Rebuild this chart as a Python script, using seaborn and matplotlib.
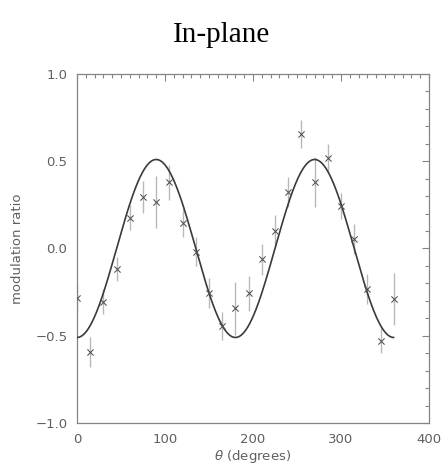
import numpy as np
import pandas as pd
import matplotlib
matplotlib.use("Agg")
import matplotlib.pyplot as plt
import seaborn as sns
from matplotlib.ticker import MultipleLocator, FuncFormatter

# Measured modulation ratio vs. polarisation angle
theta_deg = [0, 15, 30, 45, 60, 75, 90, 105, 120, 135, 150, 165, 180,
             195, 210, 225, 240, 255, 270, 285, 300, 315, 330, 345, 360]
mod_ratio = [-0.284, -0.595, -0.305, -0.118, 0.177, 0.294, 0.265, 0.380,
             0.145, -0.018, -0.253, -0.445, -0.343, -0.257, -0.062, 0.102,
             0.326, 0.655, 0.383, 0.517, 0.244, 0.053, -0.232, -0.529, -0.291]
mod_err = [0.08, 0.085, 0.07, 0.07, 0.07, 0.09, 0.15, 0.10, 0.08, 0.085,
           0.086, 0.08, 0.15, 0.10, 0.09, 0.09, 0.086, 0.082, 0.143, 0.08,
           0.076, 0.086, 0.086, 0.072, 0.148]

# cos(2 theta) model fit
fit_amplitude = 0.51
fit_offset = 0.0

df = pd.DataFrame({"theta": theta_deg, "ratio": mod_ratio, "err": mod_err})
theta_fine = np.linspace(0, 360, 721)
fit_df = pd.DataFrame({
    "theta": theta_fine,
    "ratio": fit_offset - fit_amplitude * np.cos(np.deg2rad(2 * theta_fine)),
})

sns.set_theme(style="white")
plt.rcParams["font.family"] = ["DejaVu Sans"]

axis_grey = "#858585"
label_grey = "#606060"
fig = plt.figure(figsize=(4.43, 4.68), dpi=100)
ax = fig.add_axes([0.1738, 0.0962, 0.7946, 0.7457])

ax.errorbar(df["theta"], df["ratio"], yerr=df["err"], fmt="none",
            ecolor="#b8b8b8", elinewidth=1.0, capsize=0, zorder=2)
sns.lineplot(data=fit_df, x="theta", y="ratio", ax=ax, color="#3a3a3a",
             linewidth=1.2, zorder=3)
sns.scatterplot(data=df, x="theta", y="ratio", ax=ax, marker="x",
                color="#505050", s=20, linewidth=0.75, zorder=4)

ax.set_xlim(0, 400)
ax.set_ylim(-1.0, 1.0)
ax.xaxis.set_major_locator(MultipleLocator(100))
ax.xaxis.set_minor_locator(MultipleLocator(10))
ax.yaxis.set_major_locator(MultipleLocator(0.5))
ax.yaxis.set_minor_locator(MultipleLocator(0.1))
ax.yaxis.set_major_formatter(
    FuncFormatter(lambda v, _: f"{v:.1f}".replace("-", "\u2212")))
ax.xaxis.set_major_formatter(FuncFormatter(lambda v, _: f"{v:.0f}"))

for sp in ax.spines.values():
    sp.set_color(axis_grey)
    sp.set_linewidth(0.9)
ax.tick_params(which="both", direction="in", top=True, right=True,
               color=axis_grey, width=0.8, labelcolor=label_grey,
               labelsize=9.5)
ax.tick_params(which="major", length=5, pad=7)
ax.tick_params(which="minor", length=3)

ax.set_xlabel(r"$\theta$ (degrees)", color=label_grey, fontsize=9.5, labelpad=2)
ax.set_ylabel("modulation ratio", color=label_grey, fontsize=9.5, labelpad=8)

fig.text(0.5, 0.925, "In-plane", ha="center", va="center",
         fontfamily="Liberation Serif", fontsize=21, color="black")

fig.savefig("out.png", dpi=100)
